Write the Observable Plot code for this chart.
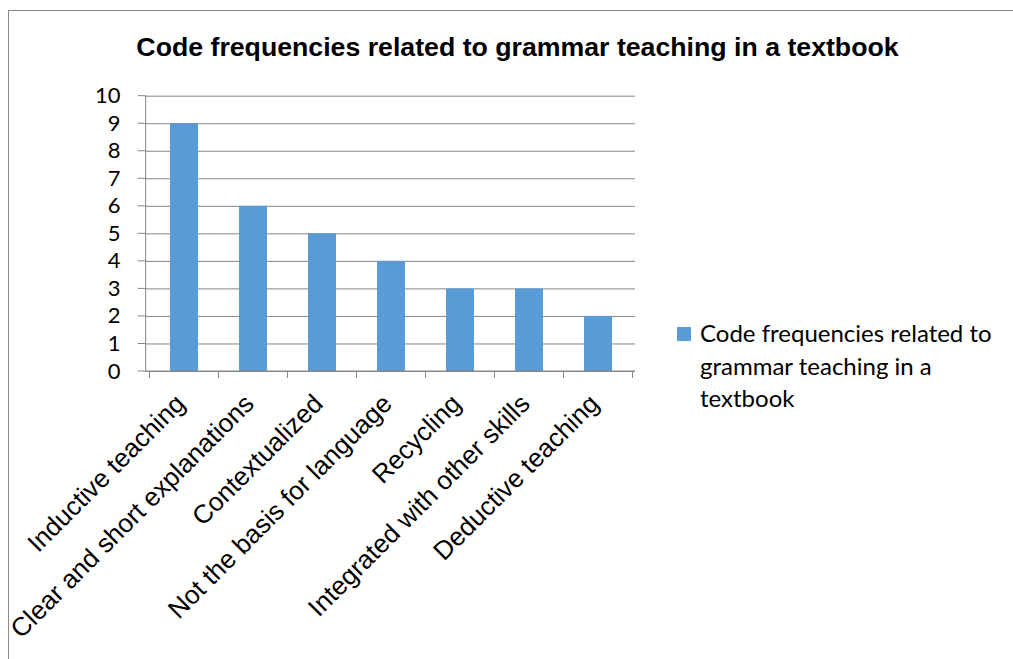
<!DOCTYPE html>
<html>
<head>
<meta charset="utf-8">
<script src="https://cdn.jsdelivr.net/npm/d3@7"></script>
<script src="https://cdn.jsdelivr.net/npm/@observablehq/plot@0.6"></script>
<style>
  html, body { margin: 0; padding: 0; background: #fff; }
  #page { position: relative; width: 1013px; height: 659px; overflow: hidden; background: #fff; }
  #border { position: absolute; left: 8px; top: 10px; width: 1100px; height: 700px; border: 1px solid #8c8c8c; box-sizing: border-box; }
  #title { position: relative; box-sizing: border-box; width: 1013px; height: 80px; padding-top: 32px; padding-left: 22px;
           font: bold 26.7px/30px "Liberation Sans", Arial, sans-serif; text-align: center; color: #000; white-space: nowrap; }
  #chart { position: relative; }
  #legend { position: absolute; left: 677px; top: 317px; display: flex; align-items: flex-start;
            font: 24px/32.5px Lato, "Noto Sans", sans-serif; color: #000; }
  #legend .swatch { width: 14px; height: 14px; margin-top: 10px; margin-right: 9px; flex: none; }
  #legend .label { width: 305px; }
</style>
</head>
<body>
<div id="page">
  <div id="border"></div>
  <div id="title"></div>
  <div id="chart"></div>
  <div id="legend"></div>
</div>
<script>
// Coded themes and how often each one was found
const categories = [
  "Inductive teaching",
  "Clear and short explanations",
  "Contextualized",
  "Not the basis for language",
  "Recycling",
  "Integrated with other skills",
  "Deductive teaching"
];
const frequencies = [9, 6, 5, 4, 3, 3, 2];
const yTicks = [0, 1, 2, 3, 4, 5, 6, 7, 8, 9, 10];
const seriesName = "Code frequencies related to grammar teaching in a textbook";
const chartTitle = "Code frequencies related to grammar teaching in a textbook";

const barColor = "#5B9BD5";
const lineColor = "#868686";

const data = categories.map((c, i) => ({category: c, value: frequencies[i]}));

document.getElementById("title").textContent = chartTitle;

// Axis lines plus tick marks: value ticks on the left, category-boundary ticks below
function axisFrame(index, scales, values, dims) {
  const {x, y} = scales;
  const left = dims.marginLeft;
  const right = dims.width - dims.marginRight;
  const top = dims.marginTop;
  const base = y(0);
  const g = d3.create("svg:g").attr("stroke", lineColor).attr("stroke-width", 1);
  g.append("line").attr("x1", left).attr("x2", left).attr("y1", top).attr("y2", base);
  for (const t of yTicks) {
    g.append("line").attr("x1", left - 8).attr("x2", left).attr("y1", y(t)).attr("y2", y(t));
  }
  g.append("line").attr("x1", left).attr("x2", right).attr("y1", base).attr("y2", base);
  const step = x.step(), bw = x.bandwidth();
  const bounds = categories.map(c => x(c) + bw / 2 - step / 2);
  bounds.push(x(categories[categories.length - 1]) + bw / 2 + step / 2);
  for (const b of bounds) {
    g.append("line").attr("x1", b).attr("x2", b).attr("y1", base).attr("y2", base + 7);
  }
  return g.node();
}

const chart = Plot.plot({
  width: 1013,
  height: 579,
  marginLeft: 145.7,
  marginRight: 378,
  marginTop: 15.7,
  marginBottom: 288,
  style: {background: "transparent", color: "#000", overflow: "visible"},
  x: {domain: categories, paddingInner: 0.6, paddingOuter: 0.3, label: null},
  y: {domain: [0, 10], label: null},
  marks: [
    Plot.gridY(yTicks, {stroke: lineColor, strokeOpacity: 1}),
    Plot.barY(data, {x: "category", y: "value", fill: barColor}),
    axisFrame,
    Plot.axisY(yTicks, {
      tickSize: 0, tickPadding: 25.7, fontSize: 22,
      fontFamily: "Lato, 'Noto Sans', sans-serif", fill: "#000", label: null
    }),
    Plot.axisX({
      tickSize: 0, tickPadding: 28, tickRotate: -45, dx: -4, fontSize: 26,
      fontFamily: "'Liberation Sans', Arial, sans-serif", fill: "#000", label: null
    })
  ]
});
document.getElementById("chart").appendChild(chart);

// Series legend to the right of the plot
const legend = document.getElementById("legend");
const sw = document.createElement("div");
sw.className = "swatch";
sw.style.background = barColor;
const lab = document.createElement("div");
lab.className = "label";
lab.textContent = seriesName;
legend.appendChild(sw);
legend.appendChild(lab);
</script>
</body>
</html>
